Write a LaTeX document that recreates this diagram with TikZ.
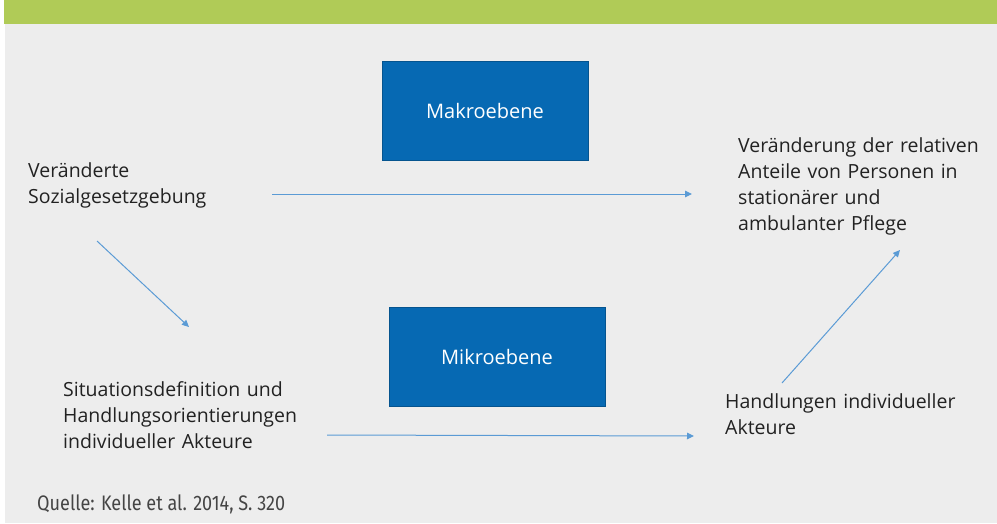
\documentclass[tikz,border=0pt]{standalone}
\usepackage{fontspec}
\setmainfont{Open Sans}
\newfontfamily\srcfont{Fira Sans}
\usetikzlibrary{arrows.meta}
\definecolor{bargreen}{HTML}{B0CB57}
\definecolor{panelgray}{HTML}{EDEDED}
\definecolor{levelblue}{HTML}{0669B3}
\definecolor{arrowblue}{HTML}{5B9BD5}
\definecolor{textdark}{HTML}{222222}
\definecolor{srcgray}{HTML}{454545}
\tikzset{
  x=1pt, y=-1pt,
  levelbox/.style={draw=levelblue!80!black, line width=0.6pt, fill=levelblue, text=white,
    inner sep=0pt, font=\fontsize{20}{24}\selectfont},
  label text/.style={anchor=base west, inner sep=0pt, align=left, text=textdark,
    font=\fontsize{19.5}{26}\selectfont},
  flow/.style={draw=arrowblue, line width=1pt, -{Triangle[length=7pt,width=6.5pt]}},
}
\begin{document}
\begin{tikzpicture}
\useasboundingbox (0,0) rectangle (997,523);
% background panel and header bar
\fill[white] (0,0) rectangle (997,523);
\fill[panelgray] (5,24) rectangle (997,523);
\fill[bargreen] (4,0) rectangle (997,24);

% level boxes
\node[levelbox, minimum width=206pt, minimum height=99pt] (makro) at (485,110.5) {Makroebene};
\node[levelbox, minimum width=216pt, minimum height=99pt] (mikro) at (497,356.5) {Mikroebene};

% text blocks
\node[label text, text width=230pt] (gesetz) at (28,177) {Veränderte\\Sozialgesetzgebung};
\node[label text, text width=255pt] (anteile) at (738,152) {Veränderung der relativen\\Anteile von Personen in\\stationärer und\\ambulanter Pflege};
\node[label text, text width=280pt] (situation) at (63,396) {Situationsdefinition und\\Handlungsorientierungen\\individueller Akteure};
\node[label text, text width=265pt] (handlung) at (725,408) {Handlungen individueller\\Akteure};
\node[anchor=base west, inner sep=0pt, text=srcgray, font=\srcfont\fontsize{21}{24}\selectfont] (quelle) at (37,510)
  {\scalebox{0.86}[1]{Quelle: Kelle et al. 2014, S. 320}};

% connector end points
\coordinate (a1s) at (272,194);
\coordinate (a1e) at (692,194);
\coordinate (a2s) at (97,241);
\coordinate (a2e) at (189,327);
\coordinate (a3s) at (327,435);
\coordinate (a3e) at (694,436);
\coordinate (a4s) at (782,383);
\coordinate (a4e) at (900,250);

\draw[flow] (a1s) -- (a1e);
\draw[flow] (a2s) -- (a2e);
\draw[flow] (a3s) -- (a3e);
\draw[flow] (a4s) -- (a4e);
\end{tikzpicture}
\end{document}
